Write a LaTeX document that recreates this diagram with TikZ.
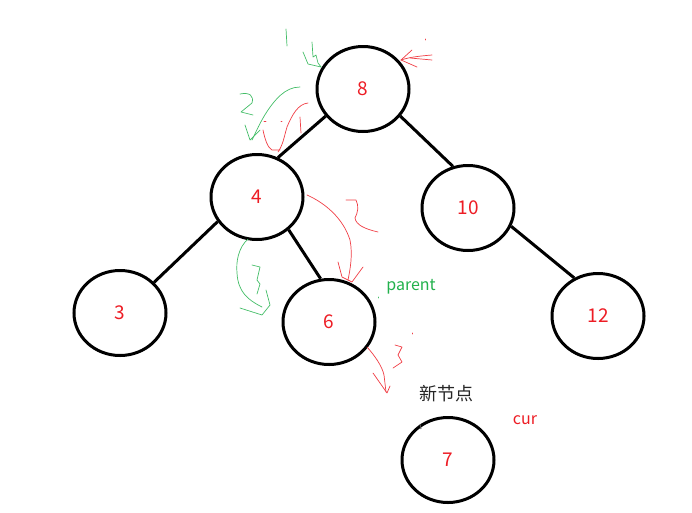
\documentclass[tikz,border=0pt]{standalone}
\usepackage{fontspec}
\setmainfont{Noto Sans CJK SC}
\usetikzlibrary{shapes.geometric}
\definecolor{pred}{RGB}{237,28,36}
\definecolor{pgreen}{RGB}{34,177,76}
\tikzset{
  tnode/.style={ellipse,draw=black,line width=3pt,minimum width=92pt,minimum height=85pt,inner sep=0pt,text=pred,font=\fontsize{19}{19}\selectfont},
  edge/.style={line width=3pt,black},
  rmark/.style={pred!85,line width=0.7pt,line cap=round,line join=round},
  gmark/.style={pgreen!85,line width=0.7pt,line cap=round,line join=round},
  lbl/.style={inner sep=0pt,font=\fontsize{16}{16}\selectfont}
}
\begin{document}
\begin{tikzpicture}[x=1pt,y=-1pt]
\useasboundingbox (0,0) rectangle (692,512);
\node[tnode] (n8) at (363,89) {8};
\node[tnode] (n4) at (257,197) {4};
\node[tnode] (n10) at (468,208) {10};
\node[tnode] (n3) at (120,313) {3};
\node[tnode] (n6) at (329,322) {6};
\node[tnode] (n12) at (598,316) {12};
\node[tnode] (n7) at (448,460) {7};
\draw[edge] (n8.216) -- (n4.62);
\draw[edge] (n8.-36) -- (n10.110);
\draw[edge] (n4.212) -- (n3.42);
\draw[edge] (n4.-46) -- (n6.101);
\draw[edge] (n10.-23) -- (n12.122);
\node[lbl,text=pgreen] (parent) at (411,287) {parent};
\node[lbl,text=pred] (cur) at (525,420) {cur};
\node[lbl,text=black!85,font=\fontsize{18}{18}\selectfont] (new) at (446,394) {新节点};
% annotation strokes (hand-drawn)
% green 1 and arrow into 8
\draw[gmark] (286,29) -- (287,46);
\draw[gmark] (303,52) -- (308,64) -- (321,67);
\draw[gmark] (312,42) -- (313,57) -- (316,55) -- (318,63) -- (321,67);
% red arrow into 8 from right
\draw[rmark] (432,55) .. controls (420,56) and (410,57) .. (401,60);
\draw[rmark] (401,60) -- (412,50);
\draw[rmark] (401,60) -- (417,67);
\draw[rmark] (425,39) -- (425,40);
\draw[rmark] (410,58) -- (432,60);
% green 2
\draw[gmark] (240,94) .. controls (250,92) and (254,96) .. (252,103) -- (241,112) -- (253,115);
% green long arrow 8 -> 4
\draw[gmark] (300,87) .. controls (285,87) and (275,100) .. (268,110) .. controls (260,122) and (256,132) .. (252,140);
\draw[gmark] (245,125) -- (250,140) -- (260,130);
% red arrow 8 -> 4 and red 1
\draw[rmark] (308,103) .. controls (298,104) and (292,115) .. (287,127) .. controls (284,137) and (283,145) .. (278,152);
\draw[rmark] (263,130) .. controls (265,140) and (268,148) .. (272,150) -- (280,150);
\draw[rmark] (300,117) -- (301,133);
\draw[rmark] (264,121) -- (266,121);
\draw[rmark] (281,121) -- (282,121);
% red arrow 4 -> 6 and red 2
\draw[rmark] (307,195) .. controls (325,203) and (343,218) .. (350,240) .. controls (353,255) and (350,270) .. (348,280);
\draw[rmark] (338,262) -- (342,277) -- (352,282) -- (363,267);
\draw[rmark] (346,200) -- (356,200) .. controls (359,206) and (358,212) .. (355,218) .. controls (356,225) and (365,229) .. (378,232);
% green arrow 4 -> 6 and green 3
\draw[gmark] (248,239) .. controls (238,248) and (236,262) .. (237,273) .. controls (238,292) and (248,300) .. (262,307);
\draw[gmark] (240,308) -- (262,315) -- (270,305) -- (266,290);
\draw[gmark] (252,265) -- (260,267) -- (257,280) -- (260,284) -- (257,294);
\draw[gmark] (378,297) -- (378,298);
% red arrow 6 -> new node and red 3
\draw[rmark] (367,347) .. controls (375,356) and (382,366) .. (384,375) -- (386,392);
\draw[rmark] (373,373) -- (387,393) -- (390,386);
\draw[rmark] (395,345) -- (402,347) -- (398,355) -- (402,362) -- (393,368);
\draw[rmark] (412,333) -- (412,334);
\draw[line width=1pt,black!70] (420,424) -- (421,429);
\end{tikzpicture}
\end{document}
